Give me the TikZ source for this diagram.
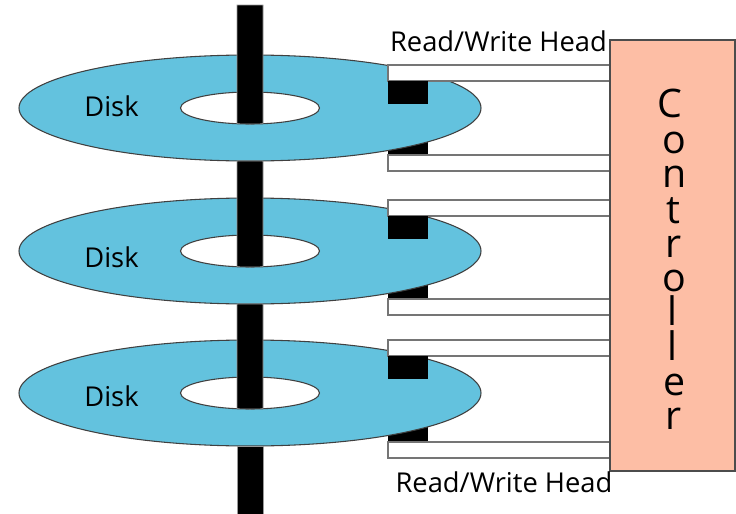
\documentclass[tikz,border=0pt]{standalone}
\usepackage{fontspec}
\setmainfont{Open Sans}
\definecolor{diskblue}{HTML}{63C2DE}
\definecolor{ctrl}{HTML}{FDBEA5}
\definecolor{armgray}{HTML}{757575}
\tikzset{
  px/.style={x=0.75pt,y=-0.75pt},
  disk/.style={fill=diskblue,draw=black!75,line width=0.8pt},
  hole/.style={fill=white,draw=black!75,line width=0.8pt},
  spindle/.style={fill=black,draw=black!40,line width=0.4pt},
  arm/.style={fill=white,draw=armgray,line width=1.1pt},
  head/.style={fill=black},
  label/.style={font=\fontsize{20.5}{24}\selectfont,inner sep=0pt,text=black},
  letter/.style={font=\fontsize{29.5}{32}\selectfont,inner sep=0pt,text=black}
}
% #1 centre y, #2 top of the spindle, #3 top of the upper arm, #4 top of the lower arm
\newcommand{\diskunit}[4]{%
  \fill[head] (388,#4-23) rectangle (428,#4);
  \draw[arm] (388,#4) rectangle (610,#4+16);
  \draw[disk] (250,#1) ellipse [x radius=231,y radius=53];
  \draw[hole] (250,#1) ellipse [x radius=69.5,y radius=16];
  \draw[spindle] (237,#2) -- (263,#2) -- (263,#1+15.7) -- (250,#1+16) -- (237,#1+15.7) -- cycle;
  \draw[arm] (388,#3) rectangle (610,#3+16);
  \fill[head] (388,#3+16) rectangle (428,#3+39);
}
\begin{document}
\begin{tikzpicture}[px]
\useasboundingbox (0,0) rectangle (736,514);
\diskunit{108}{5}{65}{155}
\diskunit{251}{161}{200}{299}
\diskunit{393}{304}{340}{442}
\draw[spindle] (237,446) rectangle (263,514);
\draw[fill=ctrl,draw=black!70,line width=0.8pt] (610,40) rectangle (735,471);
\node[label] (d1) at (111.5,106.5) {Disk};
\node[label] (d2) at (111.5,257) {Disk};
\node[label] (d3) at (111.5,396) {Disk};
\node[label] (rw1) at (498.5,41) {Read/Write Head};
\node[label] (rw2) at (504,482.5) {Read/Write Head};
\node[letter] (c1) at (670,103.5) {C};
\node[letter] (c2) at (674.5,142.5) {o};
\node[letter] (c3) at (675,176.5) {n};
\node[letter] (c4) at (673.5,210.5) {t};
\node[letter] (c5) at (674,246.5) {r};
\node[letter] (c6) at (674.5,281) {o};
\node[letter] (c7) at (672,311) {l};
\node[letter] (c8) at (672,345.5) {l};
\node[letter] (c9) at (675,384.5) {e};
\node[letter] (c10) at (674,419) {r};
\end{tikzpicture}
\end{document}
